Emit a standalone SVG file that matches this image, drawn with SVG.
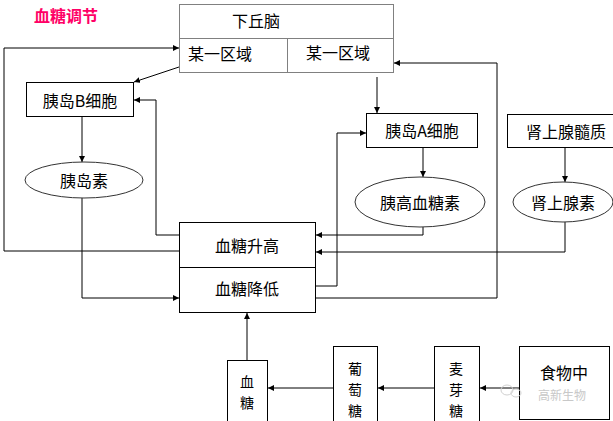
<svg xmlns="http://www.w3.org/2000/svg" width="613" height="421" viewBox="0 0 613 421">
<style>
text{font-family:"Noto Sans CJK SC","Noto Sans",sans-serif;font-size:16px;fill:#000;text-anchor:middle;dominant-baseline:central}
.v{font-size:14px}
.box{fill:#fff;stroke:#000;stroke-width:1}
.gbox{fill:#fff;stroke:#808080;stroke-width:1}
.ell{fill:#fff;stroke:#333;stroke-width:1}
.c{fill:none;stroke:#000;stroke-width:1;marker-end:url(#ah)}
.title{fill:#FF0066;font-weight:bold;font-size:16px}
.wm{fill:#c8c8c8;font-size:12px}
</style>
<defs>
<marker id="ah" viewBox="0 0 6 6" refX="6" refY="3" markerWidth="6" markerHeight="6" markerUnits="userSpaceOnUse" orient="auto">
<path d="M0,0 L6,3 L0,6 z" fill="#000"/>
</marker>
</defs>
<rect width="613" height="421" fill="#fff"/>
<text class="title" x="66" y="15">血糖调节</text>

<g id="connectors">
<path class="c" d="M179,251 H4 V48 H179"/>
<path class="c" d="M179,67 L134,82"/>
<path class="c" d="M179,235 H156 V100 H134"/>
<path class="c" d="M82,116 V162"/>
<path class="c" d="M82,198 V298 H179"/>
<path class="c" d="M377,77 V113"/>
<path class="c" d="M423,147 V177"/>
<path class="c" d="M423,227 V235 H316"/>
<path class="c" d="M565,147 V182"/>
<path class="c" d="M565,222 V252 H316"/>
<path class="c" d="M315,286 H337 V133 H366"/>
<path class="c" d="M315,298 H497 V63 H394"/>
<path class="c" d="M247,360 V313"/>
<path class="c" d="M333,388 H268"/>
<path class="c" d="M434,388 H378"/>
<path class="c" d="M519,388 H480"/>
</g>

<g id="hypothalamus">
<rect class="gbox" x="179.5" y="4.5" width="214" height="68"/>
<line x1="179.5" y1="38.5" x2="393.5" y2="38.5" stroke="#808080"/>
<line x1="287.5" y1="38.5" x2="287.5" y2="72.5" stroke="#808080"/>
<text x="256" y="20">下丘脑</text>
<text x="220" y="53">某一区域</text>
<text x="338" y="52">某一区域</text>
</g>

<g id="isletB">
<rect class="box" x="26.5" y="82.5" width="107" height="34"/>
<text x="80" y="100">胰岛B细胞</text>
</g>
<g id="insulin">
<ellipse class="ell" cx="84" cy="180" rx="59" ry="18"/>
<text x="84" y="180">胰岛素</text>
</g>
<g id="isletA">
<rect class="box" x="366.5" y="113.5" width="111" height="34"/>
<text x="422" y="130">胰岛A细胞</text>
</g>
<g id="glucagon">
<ellipse class="ell" cx="420" cy="202" rx="65" ry="25"/>
<text x="420" y="202">胰高血糖素</text>
</g>
<g id="adrenalMedulla">
<rect class="box" x="507.5" y="114.5" width="112" height="33"/>
<text x="566" y="131">肾上腺髓质</text>
</g>
<g id="adrenaline">
<ellipse class="ell" cx="563" cy="202" rx="50" ry="20"/>
<text x="563" y="202">肾上腺素</text>
</g>
<g id="bloodSugar">
<rect class="box" x="179.5" y="222.5" width="136" height="90"/>
<line x1="179.5" y1="267.5" x2="315.5" y2="267.5" stroke="#000"/>
<text x="247" y="245">血糖升高</text>
<text x="247" y="288">血糖降低</text>
</g>
<g id="blood">
<rect class="box" x="227.5" y="360.5" width="40" height="70"/>
<text class="v" x="247" y="381">血<tspan x="247" dy="21">糖</tspan></text>
</g>
<g id="glucose">
<rect class="box" x="333.5" y="346.5" width="44" height="85"/>
<text class="v" x="355" y="368">葡<tspan x="355" dy="21">萄</tspan><tspan x="355" dy="21">糖</tspan></text>
</g>
<g id="maltose">
<rect class="box" x="434.5" y="346.5" width="45" height="85"/>
<text class="v" x="456" y="368">麦<tspan x="456" dy="21">芽</tspan><tspan x="456" dy="21">糖</tspan></text>
</g>
<g id="food">
<rect class="box" x="519.5" y="346.5" width="90" height="73"/>
<text x="564" y="372">食物中</text>
</g>
<g id="watermark">
<ellipse cx="507" cy="390" rx="6" ry="5" fill="none" stroke="#d0d0d0"/>
<ellipse cx="516" cy="393" rx="5" ry="4" fill="none" stroke="#d0d0d0"/>
<text class="wm" x="562" y="394">高新生物</text>
</g>
</svg>
